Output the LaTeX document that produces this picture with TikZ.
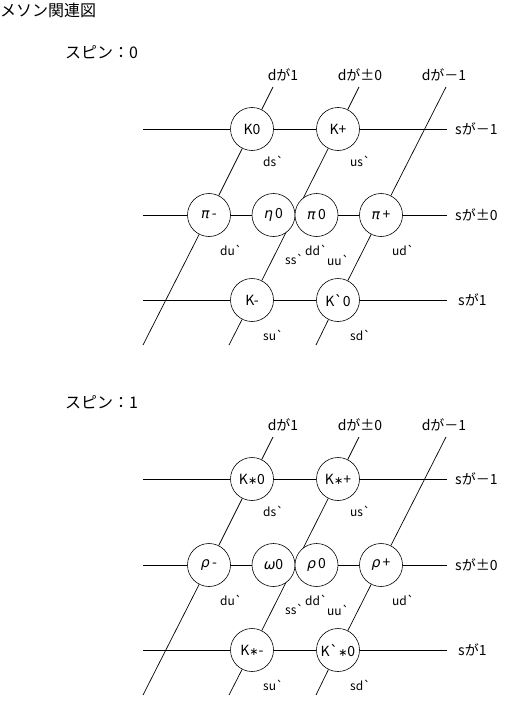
\documentclass[tikz,border=0pt]{standalone}
\usepackage{fontspec}
\setmainfont{Noto Sans CJK JP}
\newfontfamily\djv{DejaVu Sans}
\usetikzlibrary{backgrounds}
\newcommand\gq{\textasciigrave}
\newcommand\kast{{\djv\fontsize{11}{11}\selectfont ∗}}
\newcommand\gk[1]{{\djv\itshape #1}}
\begin{document}
\begin{tikzpicture}[x=1pt,y=-1pt,
  meson/.style={circle,draw,fill=white,line width=0.6pt,minimum size=43pt,inner sep=0pt,font=\fontsize{14}{14}\selectfont},
  axis/.style={line width=0.7pt},
  quark/.style={anchor=base west,inner sep=0pt,font=\fontsize{12}{12}\selectfont},
  dlab/.style={inner sep=0pt,font=\fontsize{14}{14}\selectfont},
  slab/.style={anchor=west,inner sep=0pt,font=\fontsize{14}{14}\selectfont},
  ttl/.style={anchor=west,inner sep=0pt,font=\fontsize{16}{16}\selectfont}]
\begin{scope}[on background layer]
\fill[white] (0,0) rectangle (510,706);
\end{scope}
\useasboundingbox (0,0) rectangle (510,706);
\node[ttl] (title) at (0,10) {メソン関連図};
% ---------- spin 0 ----------
\node[ttl] (t0) at (65,52) {スピン：0};
\begin{scope}
\node[meson] (aK0) at (252,129) {K0};
\node[meson] (aKp) at (338,129) {K+};
\node[meson] (apim) at (209,215) {\gk{π}\,-};
\node[meson] (aeta) at (273.5,215) {\gk{η}\,0};
\node[meson] (api0) at (316.5,215) {\gk{π}\,0};
\node[meson] (apip) at (381,215) {\gk{π}\,+};
\node[meson] (aKm) at (252,300) {K-};
\node[meson] (aKb0) at (338,300) {K\gq0};
\coordinate (ad1t) at (273,87);  \coordinate (ad1b) at (143,345);
\coordinate (ad2t) at (359,87);  \coordinate (ad2b) at (229,345);
\coordinate (ad3t) at (446,87);  \coordinate (ad3b) at (316,345);
\coordinate (as1l) at (143,129); \coordinate (as1r) at (447,129);
\coordinate (as2l) at (143,215); \coordinate (as2r) at (447,215);
\coordinate (as3l) at (143,300); \coordinate (as3r) at (447,300);
\begin{scope}[on background layer]
\draw[axis] (ad1t) -- (aK0) -- (apim) -- (ad1b);
\draw[axis] (ad2t) -- (aKp) -- (aKm) -- (ad2b);
\draw[axis] (ad3t) -- (apip) -- (aKb0) -- (ad3b);
\draw[axis] (as1l) -- (aK0) -- (aKp) -- (as1r);
\draw[axis] (as2l) -- (apim) -- (aeta) (api0) -- (apip) -- (as2r);
\draw[axis] (as3l) -- (aKm) -- (aKb0) -- (as3r);
\end{scope}
\node[dlab] (ald1) at (283,75) {dが1};
\node[dlab] (ald2) at (360,75) {dが±0};
\node[dlab] (ald3) at (444,75) {dが－1};
\node[slab] (als1) at (455,129) {sが－1};
\node[slab] (als2) at (455,215) {sが±0};
\node[slab] (als3) at (458,300) {sが1};
\node[quark] (aq1) at (263,166) {ds\gq};
\node[quark] (aq2) at (350,166) {us\gq};
\node[quark] (aq3) at (220,255) {du\gq};
\node[quark] (aq4) at (285,264) {ss\gq};
\node[quark] (aq5) at (305,255) {dd\gq};
\node[quark] (aq6) at (327,265) {uu\gq};
\node[quark] (aq7) at (392,255) {ud\gq};
\node[quark] (aq8) at (263,340) {su\gq};
\node[quark] (aq9) at (350,340) {sd\gq};
\end{scope}
% ---------- spin 1 ----------
\node[ttl] (t1) at (65,402) {スピン：1};
\begin{scope}[shift={(0,350)}]
\node[meson] (bK0) at (252,129) {K\kast0};
\node[meson] (bKp) at (338,129) {K\kast+};
\node[meson] (bpim) at (209,215) {\gk{ρ}\,-};
\node[meson] (beta) at (273.5,215) {\gk{ω}0};
\node[meson] (bpi0) at (316.5,215) {\gk{ρ}\,0};
\node[meson] (bpip) at (381,215) {\gk{ρ}\,+};
\node[meson] (bKm) at (252,300) {K\kast-};
\node[meson] (bKb0) at (338,300) {K\gq\kast0};
\coordinate (bd1t) at (273,87);  \coordinate (bd1b) at (143,345);
\coordinate (bd2t) at (359,87);  \coordinate (bd2b) at (229,345);
\coordinate (bd3t) at (446,87);  \coordinate (bd3b) at (316,345);
\coordinate (bs1l) at (143,129); \coordinate (bs1r) at (447,129);
\coordinate (bs2l) at (143,215); \coordinate (bs2r) at (447,215);
\coordinate (bs3l) at (143,300); \coordinate (bs3r) at (447,300);
\begin{scope}[on background layer]
\draw[axis] (bd1t) -- (bK0) -- (bpim) -- (bd1b);
\draw[axis] (bd2t) -- (bKp) -- (bKm) -- (bd2b);
\draw[axis] (bd3t) -- (bpip) -- (bKb0) -- (bd3b);
\draw[axis] (bs1l) -- (bK0) -- (bKp) -- (bs1r);
\draw[axis] (bs2l) -- (bpim) -- (beta) (bpi0) -- (bpip) -- (bs2r);
\draw[axis] (bs3l) -- (bKm) -- (bKb0) -- (bs3r);
\end{scope}
\node[dlab] (bld1) at (283,75) {dが1};
\node[dlab] (bld2) at (360,75) {dが±0};
\node[dlab] (bld3) at (444,75) {dが－1};
\node[slab] (bls1) at (455,129) {sが－1};
\node[slab] (bls2) at (455,215) {sが±0};
\node[slab] (bls3) at (458,300) {sが1};
\node[quark] (bq1) at (263,166) {ds\gq};
\node[quark] (bq2) at (350,166) {us\gq};
\node[quark] (bq3) at (220,255) {du\gq};
\node[quark] (bq4) at (285,264) {ss\gq};
\node[quark] (bq5) at (305,255) {dd\gq};
\node[quark] (bq6) at (327,265) {uu\gq};
\node[quark] (bq7) at (392,255) {ud\gq};
\node[quark] (bq8) at (263,340) {su\gq};
\node[quark] (bq9) at (350,340) {sd\gq};
\end{scope}
\end{tikzpicture}
\end{document}
